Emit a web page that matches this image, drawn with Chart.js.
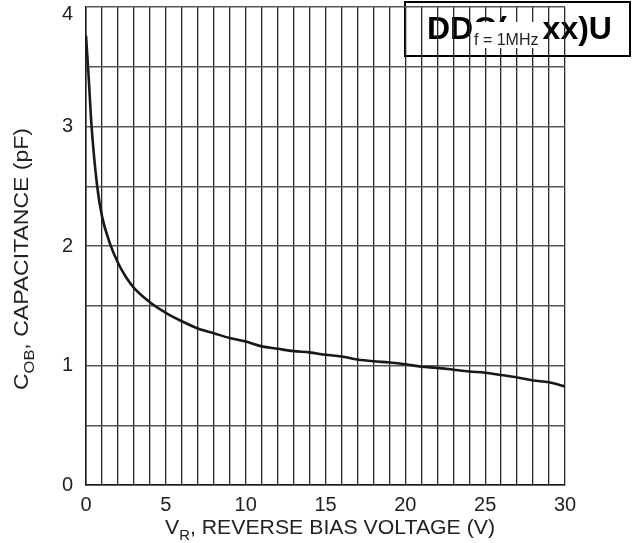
<!DOCTYPE html>
<html>
<head>
<meta charset="utf-8">
<script src="https://cdn.jsdelivr.net/npm/chart.js@4.4.1/dist/chart.umd.min.js"></script>
<style>
    html, body { margin: 0; padding: 0; background: #fff; }
    #wrap { width: 637px; height: 543px; }
</style>
</head>
<body>
<div id="wrap"><canvas id="capChart" width="637" height="543"></canvas></div>
<script>
// Capacitance vs reverse bias voltage
const voltage = [0, 0.15, 0.35, 0.7, 1, 1.5, 2, 2.5, 3, 4, 5, 6, 7, 8, 9, 10, 11, 12, 13, 14, 15,
    16, 17, 18, 19, 20, 21, 22, 23, 24, 25, 26, 27, 28, 29, 30];
const capacitance = [3.76, 3.45, 3.0, 2.5, 2.25, 2.02, 1.86, 1.74, 1.65, 1.53, 1.44, 1.37, 1.31, 1.27, 1.23, 1.2, 1.16, 1.14, 1.12, 1.11, 1.09,
    1.075, 1.05, 1.035, 1.025, 1.01, 0.99, 0.98, 0.965, 0.95, 0.94, 0.92, 0.9, 0.875, 0.86, 0.825];
const xTickLabels = ['0', '5', '10', '15', '20', '25', '30'];
const yTickLabels = ['0', '1', '2', '3', '4'];

const FONT = '"Liberation Sans", Arial, sans-serif';
const TEXT = '#222';

// draws text with subscripts, stretched along its length to fit "len"
function drawRich(ctx, parts, len) {
    let w = 0;
    parts.forEach(p => {
        ctx.font = p.size + 'px ' + FONT;
        w += ctx.measureText(p.t).width;
    });
    ctx.scale(len / w, 1);
    let x = 0;
    parts.forEach(p => {
        ctx.font = p.size + 'px ' + FONT;
        ctx.fillText(p.t, x, p.dy || 0);
        x += ctx.measureText(p.t).width;
    });
}

const decorations = {
    id: 'decorations',
    beforeDraw(chart) {
        const ctx = chart.ctx;
        ctx.save();
        ctx.strokeStyle = '#000';
        ctx.lineWidth = 2;
        ctx.strokeRect(405, 2, 225, 54);
        ctx.fillStyle = '#000';
        ctx.font = 'bold 32px ' + FONT;
        ctx.textBaseline = 'alphabetic';
        ctx.fillText('DDC(xxxx)U', 427, 39);
        ctx.restore();
    },
    afterDraw(chart) {
        const ctx = chart.ctx;
        ctx.save();
        // f = 1MHz label
        ctx.fillStyle = '#fff';
        ctx.fillRect(473, 22, 70, 26);
        ctx.fillStyle = TEXT;
        ctx.font = '16px ' + FONT;
        ctx.textBaseline = 'alphabetic';
        ctx.fillText('f = 1MHz', 474, 45);

        // x axis title
        ctx.save();
        ctx.translate(165, 534);
        drawRich(ctx, [
            { t: 'V', size: 20 },
            { t: 'R', size: 14, dy: 6 },
            { t: ', REVERSE BIAS VOLTAGE (V)', size: 20 }
        ], 330);
        ctx.restore();

        // y axis title
        ctx.save();
        ctx.translate(28, 390);
        ctx.rotate(-Math.PI / 2);
        drawRich(ctx, [
            { t: 'C', size: 21 },
            { t: 'OB', size: 15, dy: 6 },
            { t: ', CAPACITANCE (pF)', size: 21 }
        ], 262);
        ctx.restore();
        ctx.restore();
    }
};

new Chart(document.getElementById('capChart'), {
    type: 'line',
    data: {
        datasets: [{
            data: voltage.map((v, i) => ({ x: v, y: capacitance[i] })),
            borderColor: '#1b1717',
            borderWidth: 2.6,
            pointRadius: 0,
            fill: false,
            cubicInterpolationMode: 'monotone'
        }]
    },
    options: {
        responsive: false,
        animation: false,
        devicePixelRatio: 1,
        layout: { padding: { top: 7, right: 72, bottom: 0, left: 0 } },
        plugins: {
            legend: { display: false },
            tooltip: { enabled: false }
        },
        scales: {
            x: {
                type: 'linear',
                min: 0,
                max: 30,
                afterFit: s => { s.height = 58; s.paddingLeft = 0; s.paddingRight = 0; },
                ticks: {
                    stepSize: 1,
                    autoSkip: false,
                    maxRotation: 0,
                    padding: 8,
                    color: TEXT,
                    font: { family: FONT, size: 20 },
                    callback: v => xTickLabels.includes(String(v)) ? String(v) : ''
                },
                grid: { color: '#2b2727', lineWidth: 1.3, drawTicks: false },
                border: { color: '#1a1a1a', width: 1.5 }
            },
            y: {
                min: 0,
                max: 4,
                afterFit: s => { s.width = 86; s.paddingTop = 0; s.paddingBottom = 0; },
                ticks: {
                    stepSize: 0.5,
                    padding: 13,
                    color: TEXT,
                    font: { family: FONT, size: 20, lineHeight: 0.7 },
                    // top label sits a little lower, inside the canvas
                    callback: v => {
                        const s = String(v);
                        if (!yTickLabels.includes(s)) return '';
                        return v === 4 ? ['', s] : s;
                    }
                },
                grid: { color: '#5a5454', lineWidth: 1.5, drawTicks: false },
                border: { color: '#1a1a1a', width: 1.5 }
            }
        }
    },
    plugins: [decorations]
});
</script>
</body>
</html>
